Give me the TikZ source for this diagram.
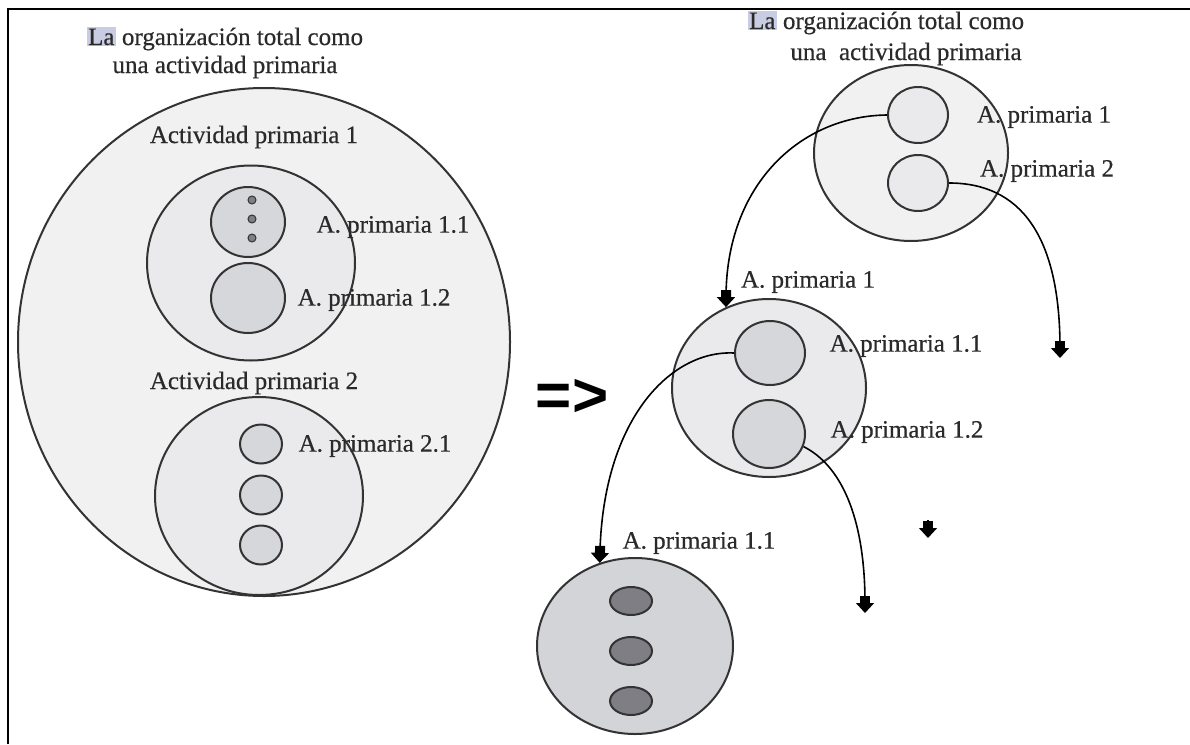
\documentclass[tikz,border=0pt]{standalone}
\usepackage{fontspec}
\setmainfont{Liberation Serif}
\newfontfamily\heavyserif{Liberation Serif}[FakeBold=0.5]
\newfontfamily\symfont{Liberation Sans}
\usetikzlibrary{shapes.geometric,arrows.meta}

\definecolor{ink}{HTML}{2A2A2A}
\definecolor{edge}{HTML}{333333}
\definecolor{pale}{HTML}{F1F1F2}
\definecolor{soft}{HTML}{EAEAEC}
\definecolor{midgray}{HTML}{D6D7DA}
\definecolor{deep}{HTML}{D3D4D7}
\definecolor{darkoval}{HTML}{7E7E84}
\definecolor{hl}{HTML}{C9CDE3}

\newcommand{\hlLa}{{\setlength{\fboxsep}{1.2pt}\colorbox{hl}{La}}}

\tikzset{
  oval/.style 2 args={ellipse, minimum width=#1pt, minimum height=#2pt,
    inner sep=0pt, draw=edge, line width=2pt},
  dot/.style={circle, minimum size=8pt, inner sep=0pt, fill=darkoval,
    draw=edge, line width=1pt},
  lbl/.style={text=ink, inner sep=0pt, font=\heavyserif\fontsize{25}{30}\selectfont},
  ttl/.style={lbl, anchor=base},
  flow/.style={draw=black, line width=1.6pt,
    -{Rectangle[length=7pt,width=10pt,sep=0pt]Triangle[length=10pt,width=18pt]}},
}

\begin{document}
\begin{tikzpicture}[x=1pt,y=-1pt]
\useasboundingbox (0,0) rectangle (1190,744);
\fill[white] (0,0) rectangle (1190,744);

% ---------- left: the whole organisation ----------
\node[ttl] (ltitle1) at (225,45) {\hlLa\ organización total como};
\node[ttl] (ltitle2) at (225,73) {una actividad primaria};

\node[oval={492}{508}, fill=pale] (org) at (264,342) {};

\node[oval={208}{195}, fill=soft] (ap1) at (251,263) {};
\node[oval={74}{70}, fill=midgray] (ap11) at (248,222) {};
\node[dot] (d1) at (252,200) {};
\node[dot] (d2) at (252,219) {};
\node[dot] (d3) at (252,238) {};
\node[oval={74}{70}, fill=midgray] (ap12) at (248,298) {};

\node[oval={208}{198}, fill=soft] (ap2) at (259,496) {};
\node[oval={42}{39}, fill=midgray] (ap21) at (261,444) {};
\node[oval={42}{39}, fill=midgray] (ap22) at (261,495) {};
\node[oval={42}{39}, fill=midgray] (ap23) at (261,545) {};

\node[lbl] (lap1) at (254,137) {Actividad primaria 1};
\node[lbl] (lap11) at (393,227) {A. primaria 1.1};
\node[lbl] (lap12) at (374,300) {A. primaria 1.2};
\node[lbl] (lap2) at (254,383) {Actividad primaria 2};
\node[lbl] (lap21) at (375,446) {A. primaria 2.1};

% ---------- transition sign ----------
\node[inner sep=0pt, text=black, font=\symfont\bfseries\fontsize{62}{62}\selectfont]
  (implies) at (572,398) {=>};

% ---------- right: recursive decomposition ----------
\node[ttl] (rtitle1) at (886,29) {\hlLa\ organización total como};
\node[ttl] (rtitle2) at (906,60) {una\ \ actividad primaria};

\node[oval={194}{176}, fill=pale] (rorg) at (911,153) {};
\node[oval={60}{56}, fill=soft] (rA1) at (918,115) {};
\node[oval={60}{56}, fill=soft] (rA2) at (918,183) {};
\node[lbl] (lrA1) at (1044,117) {A. primaria 1};
\node[lbl] (lrA2) at (1047,171) {A. primaria 2};

\node[oval={194}{178}, fill=soft] (mid) at (769,388) {};
\node[oval={70}{64}, fill=midgray] (mA11) at (770,353) {};
\node[oval={72}{68}, fill=midgray] (mA12) at (769,434) {};
\node[lbl] (lmid) at (808,282) {A. primaria 1};
\node[lbl] (lmA11) at (906,346) {A. primaria 1.1};
\node[lbl] (lmA12) at (907,432) {A. primaria 1.2};

\node[oval={196}{176}, fill=deep] (bot) at (635,646) {};
\node[oval={42}{28}, fill=darkoval] (b1) at (631,601) {};
\node[oval={42}{28}, fill=darkoval] (b2) at (631,651) {};
\node[oval={42}{28}, fill=darkoval] (b3) at (631,701) {};
\node[lbl] (lbot) at (699,543) {A. primaria 1.1};

% loose ends of the decomposition
\coordinate (endA2) at (1060,358);
\coordinate (endA12) at (865,613);
\coordinate (loneA) at (928,520);
\coordinate (loneB) at (928,538);

\draw[flow] (rA1.west) .. controls (800,116) and (726,185) .. (mid.118);
\draw[flow] (rA2.east) .. controls (1020,183) and (1060,235) .. (endA2);
\draw[flow] (mA11.west) .. controls (670,350) and (603,420) .. (bot.113);
\draw[flow] (mA12.-20) .. controls (840,465) and (865,515) .. (endA12);
\draw[flow] (loneA) -- (loneB);

% ---------- page frame ----------
\fill[white] (0,0) rectangle (1190,9);
\draw[line width=2.4pt, black] (8,744) -- (8,9) -- (1190,9);
\end{tikzpicture}
\end{document}
